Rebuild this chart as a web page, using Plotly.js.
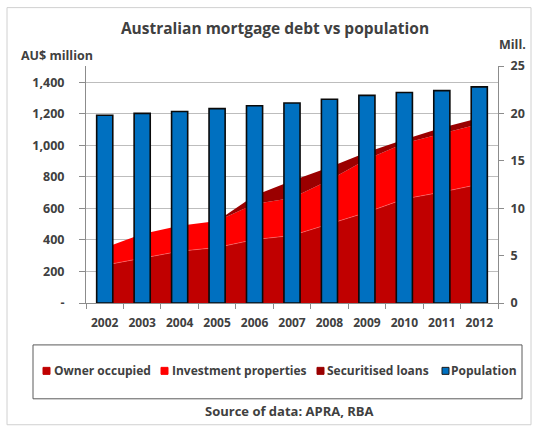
<!DOCTYPE html>
<html>
<head>
<meta charset="utf-8">
<script src="https://cdn.plot.ly/plotly-3.0.1.min.js"></script>
<style>
  html, body { margin: 0; padding: 0; background: #ffffff; }
  #chart { width: 535px; height: 427px; }
</style>
</head>
<body>
<div id="chart"></div>
<script>
// ---- data ----
const years = ['2002','2003','2004','2005','2006','2007','2008','2009','2010','2011','2012'];
const ownerOccupied = [240, 285, 328, 352, 402, 428, 500, 575, 660, 703, 753];       // AU$ million
const investmentProperties = [110, 152, 162, 168, 226, 237, 280, 337, 352, 372, 382]; // AU$ million
const securitisedLoans = [0, 0, 0, 0, 54, 110, 80, 43, 24, 36, 38];                  // AU$ million
const population = [19.8, 20.0, 20.2, 20.5, 20.8, 21.1, 21.5, 21.9, 22.2, 22.4, 22.8]; // millions
const leftTickVals = [0, 200, 400, 600, 800, 1000, 1200, 1400];
const leftTickText = ['-', '200', '400', '600', '800', '1,000', '1,200', '1,400'];
const seriesNames = ['Owner occupied', 'Investment properties', 'Securitised loans', 'Population'];

const C_OWNER = '#C00000', C_INV = '#FF0000', C_SEC = '#9A0000', C_POP = '#0070C0';
const TXT = '#404040';
const FONT = 'Open Sans, DejaVu Sans, sans-serif';

const traces = [
  { x: years, y: ownerOccupied, name: seriesNames[0], type: 'scatter', mode: 'lines',
    stackgroup: 'debt', line: { width: 0.8, color: 'rgba(255,140,140,0.55)' }, fillcolor: C_OWNER,
    xaxis: 'x', yaxis: 'y', hoverinfo: 'skip' },
  { x: years, y: investmentProperties, name: seriesNames[1], type: 'scatter', mode: 'lines',
    stackgroup: 'debt', line: { width: 0, color: C_INV }, fillcolor: C_INV,
    xaxis: 'x', yaxis: 'y', hoverinfo: 'skip' },
  { x: years, y: securitisedLoans, name: seriesNames[2], type: 'scatter', mode: 'lines',
    stackgroup: 'debt', line: { width: 0, color: C_SEC }, fillcolor: C_SEC,
    xaxis: 'x', yaxis: 'y', hoverinfo: 'skip' },
  { x: years, y: population, name: seriesNames[3], type: 'bar',
    marker: { color: C_POP, line: { color: '#0a0a0a', width: 1.6 } },
    xaxis: 'x', yaxis: 'y2', hoverinfo: 'skip' }
];

// paper coordinate helpers (plot area: x 86..498 px, y 65.5..303 px)
const PL = 86, PR = 498, PT = 65.5, PB = 303;
const px = v => (v - PL) / (PR - PL);
const py = v => (PB - v) / (PB - PT);

const legendSquares = [
  { left: 43, color: C_OWNER, line: C_OWNER },
  { left: 161, color: C_INV, line: C_INV },
  { left: 317, color: C_SEC, line: C_SEC },
  { left: 442, color: C_POP, line: '#1a1a1a' }
];
const legendTextX = [52, 170, 325, 449];
const LEG_Y = 371;

const shapes = [
  // outer chart frame
  { type: 'rect', xref: 'paper', yref: 'paper', x0: px(7), x1: px(531), y0: py(425), y1: py(7),
    line: { color: '#D0D0D0', width: 1 }, fillcolor: 'rgba(0,0,0,0)', layer: 'below' },
  // legend box
  { type: 'rect', xref: 'paper', yref: 'paper', x0: px(33), x1: px(522), y0: py(399), y1: py(345),
    line: { color: '#5a5a5a', width: 1 }, fillcolor: 'rgba(0,0,0,0)' }
];
legendSquares.forEach(s => {
  shapes.push({ type: 'rect', xref: 'paper', yref: 'paper',
    x0: px(s.left), x1: px(s.left + 7), y0: py(LEG_Y + 3.5), y1: py(LEG_Y - 3.5),
    line: { color: s.line, width: 1 }, fillcolor: s.color });
});

const annotations = [
  { text: '<b>AU$ million</b>', xref: 'paper', yref: 'paper', x: px(57), y: py(55),
    xanchor: 'center', yanchor: 'middle', showarrow: false, font: { family: FONT, size: 12.5, color: TXT } },
  { text: '<b>Mill.</b>', xref: 'paper', yref: 'paper', x: px(512), y: py(44),
    xanchor: 'center', yanchor: 'middle', showarrow: false, font: { family: FONT, size: 12.5, color: TXT } },
  { text: '<b>Source of data: APRA, RBA</b>', xref: 'paper', yref: 'paper', x: px(289), y: py(411),
    xanchor: 'center', yanchor: 'middle', showarrow: false, font: { family: FONT, size: 13, color: TXT } }
];
seriesNames.forEach((n, i) => {
  annotations.push({ text: '<b>' + n + '</b>', xref: 'paper', yref: 'paper', x: px(legendTextX[i]), y: py(LEG_Y),
    xanchor: 'left', yanchor: 'middle', showarrow: false, font: { family: FONT, size: 12, color: TXT } });
});

const tickFont = { family: FONT, size: 12, color: TXT, weight: 'bold' };

const layout = {
  width: 535, height: 427, autosize: false,
  margin: { l: PL, r: 535 - PR, t: PT, b: 427 - PB, pad: 0 },
  paper_bgcolor: '#ffffff', plot_bgcolor: '#ffffff',
  showlegend: false,
  font: { family: FONT, color: TXT },
  title: { text: '<b>Australian mortgage debt vs population</b>', x: 275 / 535, xanchor: 'center',
    y: 1 - 29 / 427, yanchor: 'middle', xref: 'container', yref: 'container',
    font: { family: FONT, size: 15.5, color: TXT } },
  bargap: 0.57,
  xaxis: { type: 'category', range: [-0.5, 10.5], showline: true, linecolor: '#8c8c8c', linewidth: 1,
    ticks: 'outside', tickson: 'boundaries', ticklen: 5, tickcolor: '#8c8c8c', tickangle: 0,
    showgrid: false, zeroline: false, ticklabelstandoff: 9,
    tickfont: tickFont, fixedrange: true },
  yaxis: { range: [0, 1400 * (PB - PT) / (303 - 81.7)], tickvals: leftTickVals, ticktext: leftTickText,
    showline: true, linecolor: '#8c8c8c', linewidth: 1, ticks: 'outside', ticklen: 6, tickcolor: '#8c8c8c',
    showgrid: true, gridcolor: '#bdbdbd', gridwidth: 1, zeroline: false, ticklabelstandoff: 12,
    tickfont: { family: FONT, size: 12.5, color: TXT, weight: 'bold' }, fixedrange: true },
  yaxis2: { overlaying: 'y', side: 'right', range: [0, 25], dtick: 5, tick0: 0,
    showline: true, linecolor: '#8c8c8c', linewidth: 1, ticks: 'outside', ticklen: 5, tickcolor: '#8c8c8c',
    showgrid: false, zeroline: false, ticklabelstandoff: 4,
    tickfont: { family: FONT, size: 12.5, color: TXT, weight: 'bold' }, fixedrange: true },
  shapes: shapes,
  annotations: annotations
};

Plotly.newPlot('chart', traces, layout, { displayModeBar: false, staticPlot: true });
</script>
</body>
</html>
